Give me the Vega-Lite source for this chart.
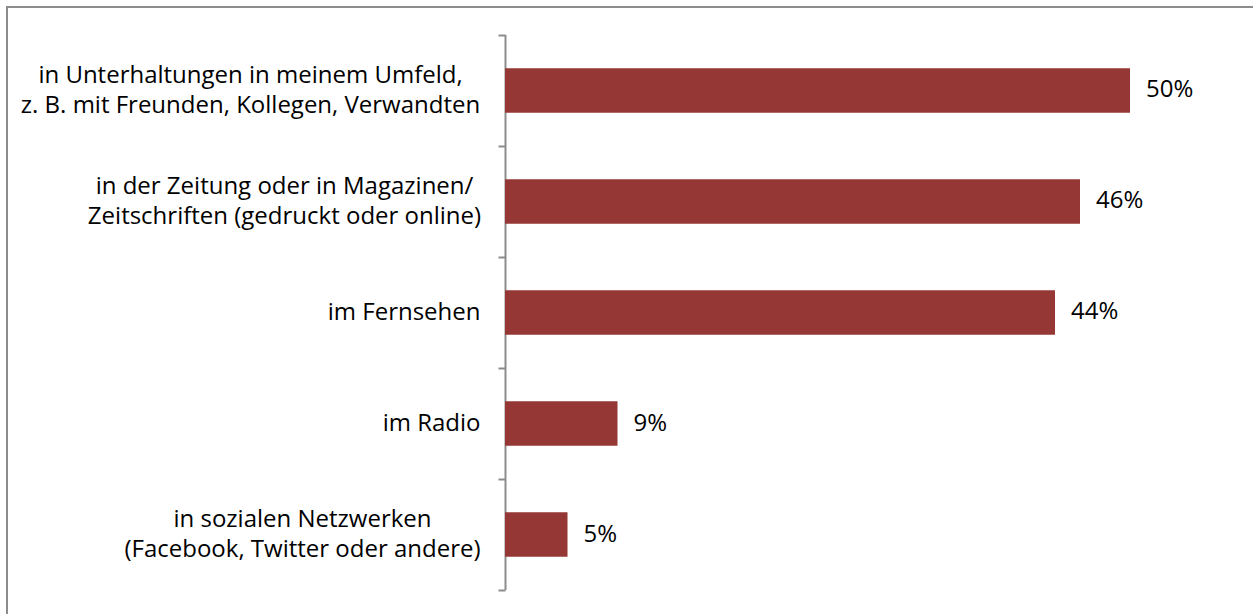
{
  "$schema": "https://vega.github.io/schema/vega-lite/v6.json",
  "autosize": {"type": "none"},
  "padding": {"left": 7, "top": 7, "right": -2, "bottom": -2},
  "width": 1248,
  "height": 609,
  "background": "white",
  "config": {
    "view": {"stroke": "#8c8c8c", "strokeWidth": 2},
    "font": "Open Sans"
  },
  "data": {
    "values": [
      {"kanal": "in Unterhaltungen in meinem Umfeld,|z. B. mit Freunden, Kollegen, Verwandten", "wert": 50, "label": "50%"},
      {"kanal": "in der Zeitung oder in Magazinen/|Zeitschriften (gedruckt oder online)", "wert": 46, "label": "46%"},
      {"kanal": "im Fernsehen", "wert": 44, "label": "44%"},
      {"kanal": "im Radio", "wert": 9, "label": "9%"},
      {"kanal": "in sozialen Netzwerken|(Facebook, Twitter oder andere)", "wert": 5, "label": "5%"}
    ]
  },
  "encoding": {
    "y": {
      "field": "kanal",
      "type": "nominal",
      "sort": null,
      "title": null,
      "scale": {"paddingInner": 0, "paddingOuter": 0.2432, "align": 0.5185},
      "axis": {
        "offset": -498,
        "tickBand": "extent",
        "domain": false,
        "tickColor": "#8c8c8c",
        "tickWidth": 2,
        "tickSize": 7,
        "labelAlign": {
          "condition": {"test": "isValid(datum.value) && indexof(datum.value, '|') >= 0", "value": "center"},
          "value": "right"
        },
        "labelOffset": {
          "condition": {"test": "isValid(datum.value) && indexof(datum.value, '|') >= 0", "value": -15},
          "value": 0
        },
        "labelPadding": {
          "condition": [
            {"test": "isValid(datum.value) && indexof(datum.value, 'Unterhaltungen') >= 0", "value": 248},
            {"test": "isValid(datum.value) && indexof(datum.value, 'Zeitung') >= 0", "value": 214},
            {"test": "isValid(datum.value) && indexof(datum.value, 'sozialen') >= 0", "value": 196}
          ],
          "value": 18
        },
        "labelFont": "Open Sans",
        "labelFontSize": 24,
        "labelColor": "#000000",
        "labelLineHeight": 30,
        "labelLimit": 0,
        "labelExpr": "isValid(datum.value) ? split(datum.value, '|') : ''"
      }
    },
    "x": {
      "field": "wert",
      "type": "quantitative",
      "title": null,
      "scale": {"domain": [-39.84, 60], "nice": false, "zero": false},
      "axis": null
    }
  },
  "layer": [
    {
      "mark": {"type": "bar", "color": "#8c8c8c", "height": {"band": 1}},
      "encoding": {"x": {"datum": -0.04}, "x2": {"datum": 0.12}}
    },
    {
      "mark": {"type": "bar", "color": "#953735", "height": {"band": 0.4}}
    },
    {
      "mark": {"type": "text", "align": "left", "dx": 16, "fontSize": 24, "font": "Open Sans", "color": "#000000"},
      "encoding": {"text": {"field": "label"}}
    }
  ]
}
